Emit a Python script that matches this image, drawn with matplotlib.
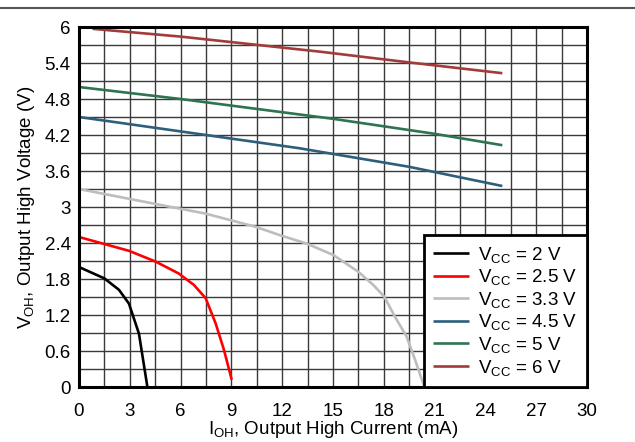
import matplotlib.pyplot as plt
from matplotlib.ticker import MultipleLocator

plt.rcParams["font.family"] = ["Liberation Sans", "DejaVu Sans"]
plt.rcParams["mathtext.default"] = "regular"

## Data (I in mA, V in V)
i_2v = [0, 1.5, 2.36, 2.95, 3.54, 4.04]
v_2v = [2.0, 1.81, 1.62, 1.39, 0.89, 0.0]

i_25v = [0, 2.95, 4.53, 5.9, 6.79, 7.48, 8.07, 8.56, 9.02]
v_25v = [2.5, 2.27, 2.09, 1.89, 1.70, 1.48, 1.06, 0.62, 0.12]

i_33v = [0, 4.53, 7.48, 10.43, 11.87, 13.45, 15.02, 16.5, 17.38, 18.03,
         18.66, 19.35, 19.85, 20.4]
v_33v = [3.3, 3.05, 2.89, 2.67, 2.53, 2.39, 2.2, 1.92, 1.70, 1.505,
         1.17, 0.84, 0.45, 0.0]

i_45v = [0, 7.5, 13.0, 19.5, 25.0]
v_45v = [4.5, 4.2, 3.98, 3.67, 3.35]

i_5v = [0, 6.0, 15.0, 21.0, 25.0]
v_5v = [5.0, 4.8, 4.47, 4.22, 4.03]

i_6v = [0.8, 6.0, 14.2, 19.5, 25.0]
v_6v = [5.97, 5.84, 5.59, 5.41, 5.23]

series = [
    (i_2v, v_2v, "black", "V$_{CC}$ = 2 V"),
    (i_25v, v_25v, "#ff0000", "V$_{CC}$ = 2.5 V"),
    (i_33v, v_33v, "#bdbdbd", "V$_{CC}$ = 3.3 V"),
    (i_45v, v_45v, "#2d5f7d", "V$_{CC}$ = 4.5 V"),
    (i_5v, v_5v, "#2e7450", "V$_{CC}$ = 5 V"),
    (i_6v, v_6v, "#a33b3b", "V$_{CC}$ = 6 V"),
]

fig = plt.figure(figsize=(6.35, 4.42), dpi=100)
ax = fig.add_axes([0.1244, 0.1244, 0.8, 0.8145])

# rule at the top of the figure
fig.add_artist(plt.Line2D([0, 1], [1 - 8 / 442, 1 - 8 / 442],
                          color="#555555", linewidth=1.5,
                          transform=fig.transFigure))

for xs, ys, color, label in series:
    ax.plot(xs, ys, color=color, linewidth=1.9, label=label,
            solid_capstyle="butt", solid_joinstyle="round")

ax.set_xlim(0, 30)
ax.set_ylim(0, 6)
ax.xaxis.set_major_locator(MultipleLocator(3))
ax.xaxis.set_minor_locator(MultipleLocator(1.5))
ax.yaxis.set_major_locator(MultipleLocator(0.6))
ax.yaxis.set_minor_locator(MultipleLocator(0.3))
ax.set_yticks([0, 0.6, 1.2, 1.8, 2.4, 3, 3.6, 4.2, 4.8, 5.4, 6])
ax.set_yticklabels(["0", "0.6", "1.2", "1.8", "2.4", "3", "3.6",
                    "4.2", "4.8", "5.4", "6"])
ax.grid(which="both", color="#3a3a3a", linewidth=1.0)
ax.set_axisbelow(True)
ax.tick_params(which="both", length=0, labelsize=13.5)
ax.tick_params(axis="x", pad=11.5)
ax.tick_params(axis="y", pad=6)
for sp in ax.spines.values():
    sp.set_linewidth(2.2)

ax.set_xlabel("I$_{OH}$, Output High Current (mA)", fontsize=13.5, labelpad=-1)
ax.set_ylabel("V$_{OH}$, Output High Voltage (V)", fontsize=13.5, labelpad=5)

leg = ax.legend(loc="lower right", borderaxespad=0, fontsize=13.5,
                fancybox=False, framealpha=1, handlelength=1.9,
                labelspacing=0.14, borderpad=0.5, handletextpad=0.5)
leg.get_frame().set_edgecolor("black")
leg.get_frame().set_linewidth(2.0)

fig.savefig("out.png", dpi=100)
